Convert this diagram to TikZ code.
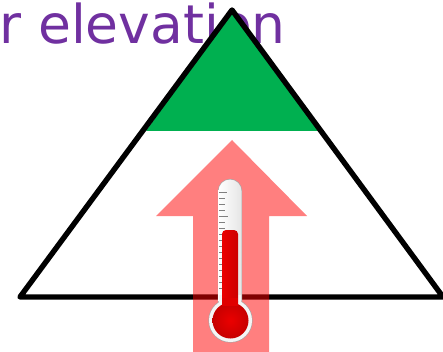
\documentclass[tikz,border=0pt]{standalone}
\usepackage{fontspec}
\setmainfont{DejaVu Sans}
\definecolor{purp}{HTML}{7030A0}
\definecolor{grn}{HTML}{00B050}
\tikzset{
  glassedge/.style={draw=black!35,line width=1.2pt},
  tickmark/.style={black!50,line width=.8pt}
}
\begin{document}
\begin{tikzpicture}[x=1pt,y=-1pt]
\path[use as bounding box] (0,0) rectangle (443,352);
\clip (0,0) rectangle (443,352);
\node (title) [anchor=base west,inner sep=0pt,text=purp,font=\fontsize{53.5}{54}\selectfont] at (-1,43.5) {r elevation};
\fill[grn] (232,10) -- (146,131) -- (318,131) -- cycle;
\draw[line width=5.4pt,line join=round] (232,10) -- (20,297) -- (443,297) -- cycle;
\fill[red,opacity=.5] (232,140) -- (307,216) -- (269,216) -- (269,352) -- (193,352) -- (193,216) -- (156,216) -- cycle;
% glass outline, then glass
\draw[glassedge,rounded corners=11.5pt] (218.5,179.5) rectangle (241.5,312);
\draw[glassedge] (230.5,320.5) circle[radius=21.5];
\shade[left color=white,right color=black!10,rounded corners=11.5pt] (218.5,179.5) rectangle (241.5,312);
\fill[black!4] (230.5,320.5) circle[radius=21.5];
\fill[black!4] (219,295) rectangle (241,312);
\foreach \yy/\ll in {192/8,198/6,204/6,210/6,216/9,222/6,228/6,234/6,240/6,246/6,252/9,258/6,264/6,270/6,276/6,282/6,288/9}
  \draw[tickmark] (219,\yy) -- ++(\ll,0);
% liquid
\shade[left color=red!92!black,right color=red!80!black,rounded corners=4pt] (222,230) rectangle (238,312);
\shade[inner color=red!92!black,outer color=red!78!black] (230.5,320.5) circle[radius=18];
\fill[red!88!black] (222.3,298) rectangle (237.7,306);
\end{tikzpicture}
\end{document}
